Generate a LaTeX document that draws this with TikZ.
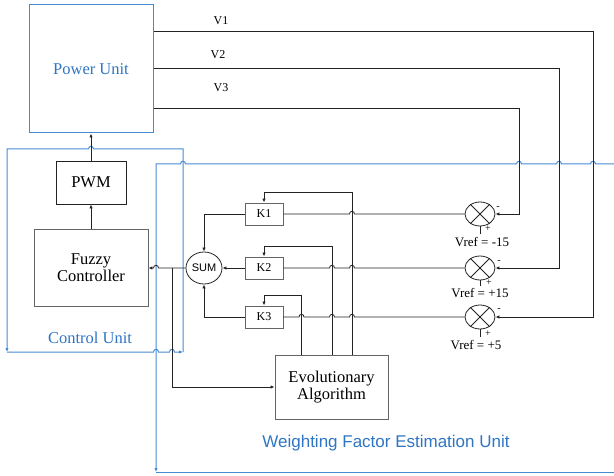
\documentclass[tikz,border=0pt]{standalone}
\usepackage{fontspec}
\setmainfont{Liberation Serif}
\setsansfont{Liberation Sans}
\usetikzlibrary{arrows.meta,shapes.geometric,calc}
\definecolor{bl}{RGB}{70,138,210}
\definecolor{bltxt}{RGB}{46,117,196}
\definecolor{lnc}{RGB}{35,35,35}
\definecolor{bx}{RGB}{100,100,100}
\tikzset{
 tip/.style={-{Latex[length=4pt,width=3.4pt]}},
 ln/.style={draw=lnc,line width=0.8pt},
 bline/.style={draw=bl,line width=1pt},
 blk/.style={draw=bx,line width=0.9pt,inner sep=0pt,align=center,font=\fontsize{16.5}{17}\selectfont},
 kbox/.style={draw=bx,line width=0.9pt,minimum width=38pt,minimum height=22pt,inner sep=0pt,font=\fontsize{12}{14}\selectfont},
 summer/.style={ellipse,draw=lnc,line width=0.8pt,minimum width=30pt,minimum height=24pt,inner sep=0pt},
 lbl/.style={font=\fontsize{12}{14}\selectfont,inner sep=0pt},
 vref/.style={font=\fontsize{13}{15}\selectfont,inner sep=0pt},
 sgn/.style={font=\fontsize{10}{12}\selectfont,inner sep=0pt},
}
\newcommand{\hopR}[2]{-- (#1-2.5,#2) .. controls (#1-2.5,#2-3.6) and (#1+2.5,#2-3.6) .. (#1+2.5,#2)}
\newcommand{\hopL}[2]{-- (#1+2.5,#2) .. controls (#1+2.5,#2-3.6) and (#1-2.5,#2-3.6) .. (#1-2.5,#2)}
\begin{document}
\begin{tikzpicture}[x=1pt,y=-1pt]
\useasboundingbox (0,0) rectangle (614,476);

% blocks
\node[blk,draw=bl,line width=1pt,text=bltxt,minimum width=124pt,minimum height=128pt] (pu) at (91,69) {Power Unit};
\node[blk,draw=lnc,minimum width=70pt,minimum height=43pt] (pwm) at (91,182.5) {PWM};
\node[blk,minimum width=114pt,minimum height=77pt] (fz) at (91,268) {Fuzzy\\Controller};
\node[blk,minimum width=113pt,minimum height=64pt] (ea) at (331.5,387) {Evolutionary\\Algorithm};
\node[ellipse,draw=lnc,line width=0.8pt,minimum width=36pt,minimum height=32pt,inner sep=0pt,font=\sffamily\fontsize{11}{13}\selectfont] (sum) at (204,268) {SUM};
\node[kbox] (k1) at (264,214) {K1};
\node[kbox] (k2) at (264,268) {K2};
\node[kbox] (k3) at (264,317) {K3};
\node[summer] (s1) at (480,214) {};
\node[summer] (s2) at (480,268) {};
\node[summer] (s3) at (480,317) {};
\foreach \s in {s1,s2,s3} {\draw[ln] (\s.45) -- (\s.225) (\s.135) -- (\s.315);}

% labels
\node[lbl] (lv1) at (221,21) {V1};
\node[lbl] (lv2) at (218,55) {V2};
\node[lbl] (lv3) at (221,88) {V3};
\node[vref] (r1) at (482,242) {Vref = -15};
\node[vref] (r2) at (480,293) {Vref = +15};
\node[vref] (r3) at (476,345) {Vref = +5};
\node[sgn] (m1) at (498,208) {-};
\node[sgn] (p1) at (488,229) {+};
\node[sgn] (m2) at (499,262) {-};
\node[sgn] (p2) at (489,282.5) {+};
\node[sgn] (m3) at (499,310) {-};
\node[sgn] (p3) at (488,334) {+};
\draw[ln] (s1.south) -- ++(0,8);
\draw[ln] (s2.south) -- ++(0,6);
\draw[ln] (s3.south) -- ++(0,8);
\node[text=bltxt,font=\fontsize{16.5}{18}\selectfont] (cul) at (90,338) {Control Unit};
\node[text=bltxt,font=\sffamily\fontsize{17}{19}\selectfont] (wul) at (386,443) {Weighting Factor Estimation Unit};

% blue frames
\draw[bline,tip] (183,352) -- (183,149) \hopL{91}{149} -- (7,149) -- (7,352);
\draw[bline,tip] (7,352) \hopR{156}{352} \hopR{172}{352} -- (183,352);
\draw[bline,tip] (614,164) \hopL{593}{164} \hopL{559}{164} \hopL{519}{164} \hopL{183}{164} -- (156,164) -- (156,472);
\draw[bline] (156,472) -- (614,472);

% power unit outputs
\draw[ln,tip] ([yshift=-27pt]pu.north east) -| (593,317) -- (s3.east);
\draw[ln,tip] ([yshift=-64pt]pu.north east) -| (559,268) -- (s2.east);
\draw[ln,tip] ([yshift=-104pt]pu.north east) -| (519,214) -- (s1.east);

% control chain
\draw[ln,tip] (pwm.north) -- (pu.south);
\draw[ln,tip] (fz.north) -- (pwm.south);
\draw[ln,tip] (sum.west) \hopL{156}{268} -- (fz.east);
\coordinate (br) at (172,268);
\draw[ln,tip] (br) |- (ea.west);

% K to SUM
\draw[ln,tip] (k1.west) -| (sum.north);
\draw[ln,tip] (k2.west) -- (sum.east);
\draw[ln,tip] (k3.west) -| (sum.south);

% summers to K
\draw[ln] (k1.east) \hopR{352}{214} -- (s1.west);
\draw[ln] (k2.east) \hopR{332}{268} \hopR{352}{268} -- (s2.west);
\draw[ln] (k3.east) \hopR{301.5}{317} \hopR{332}{317} \hopR{352}{317} -- (s3.west);

% EA feedback
\draw[ln,tip] ([xshift=20.5pt]ea.north) -- (352,192) -| (k1.north);
\draw[ln,tip] ([xshift=0.5pt]ea.north) -- (332,246) -| (k2.north);
\draw[ln,tip] ([xshift=-30pt]ea.north) -- (301.5,295) -| (k3.north);
\end{tikzpicture}
\end{document}
